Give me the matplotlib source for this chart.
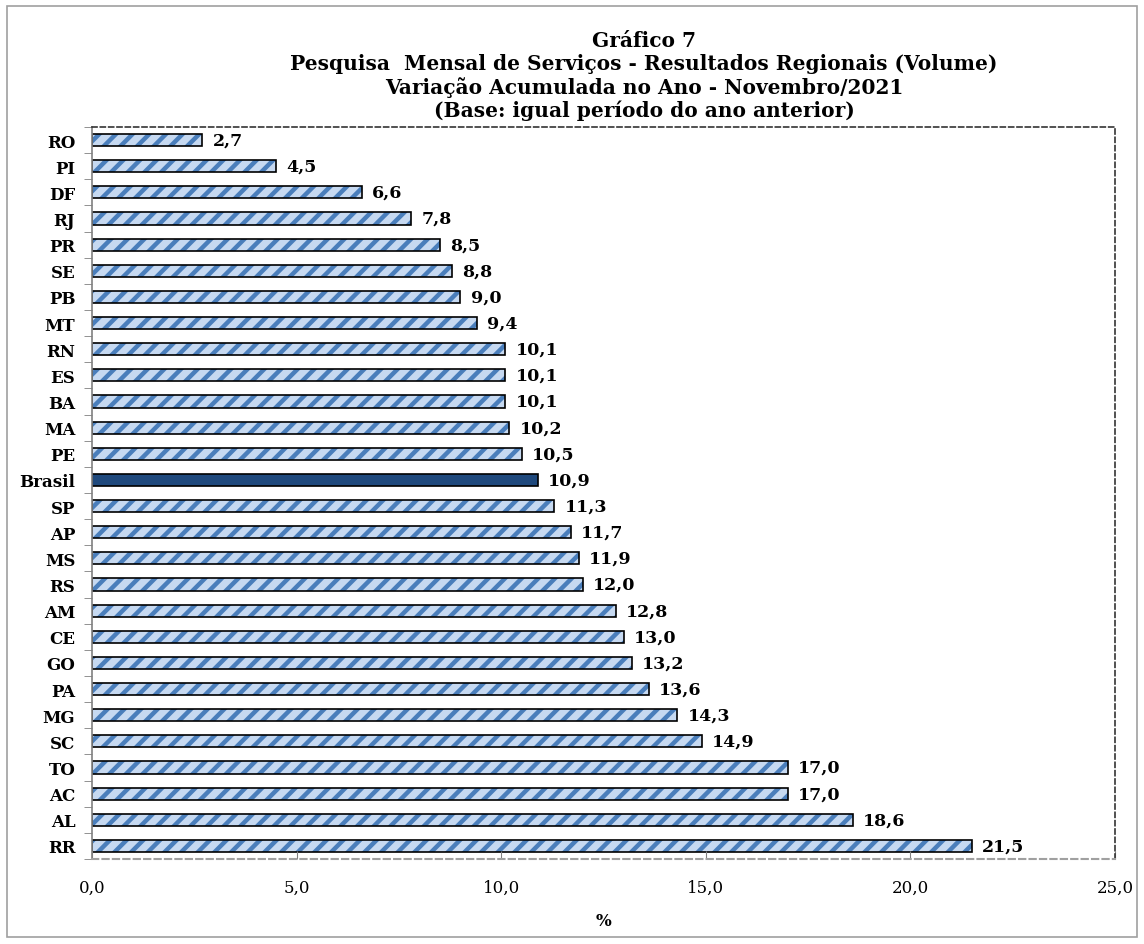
import matplotlib.pyplot as plt
from matplotlib.patches import Rectangle
import numpy as np

estados = ['RO', 'PI', 'DF', 'RJ', 'PR', 'SE', 'PB', 'MT', 'RN', 'ES', 'BA', 'MA', 'PE',
           'Brasil', 'SP', 'AP', 'MS', 'RS', 'AM', 'CE', 'GO', 'PA', 'MG', 'SC', 'TO',
           'AC', 'AL', 'RR']
valores = [2.7, 4.5, 6.6, 7.8, 8.5, 8.8, 9.0, 9.4, 10.1, 10.1, 10.1, 10.2, 10.5,
           10.9, 11.3, 11.7, 11.9, 12.0, 12.8, 13.0, 13.2, 13.6, 14.3, 14.9, 17.0,
           17.0, 18.6, 21.5]
xticks = [0, 5, 10, 15, 20, 25]

titulo = ('Gráfico 7\n'
          'Pesquisa  Mensal de Serviços - Resultados Regionais (Volume)\n'
          'Variação Acumulada no Ano - Novembro/2021\n'
          '(Base: igual período do ano anterior)')

plt.rcParams['font.family'] = ['DejaVu Serif']
plt.rcParams['hatch.linewidth'] = 3.2

fig = plt.figure(figsize=(11.44, 9.45), dpi=100)
fig.patches.append(Rectangle((7/1144, 7/945), 1130/1144, 931/945, transform=fig.transFigure,
                             fill=False, edgecolor='#a0a0a0', linewidth=1.2))
ax = fig.add_axes([92/1144, 85/945, 1023/1144, 732/945])

y = np.arange(len(estados))
cores = ['#1f497d' if e == 'Brasil' else '#c6d9f1' for e in estados]
hatches = ['' if e == 'Brasil' else '//' for e in estados]

# preenchimento com listras
for yi, v, c, h in zip(y, valores, cores, hatches):
    ax.barh(yi, v, height=0.46, color=c, hatch=h, edgecolor='#4a7ebb', linewidth=0)
# contorno preto
ax.barh(y, valores, height=0.46, fill=False, edgecolor='black', linewidth=1.2)

for yi, v in zip(y, valores):
    ax.text(v + 0.25, yi, f'{v:.1f}'.replace('.', ','), va='center', ha='left',
            fontsize=12.5, fontweight='bold')

ax.set_xlim(0, 25)
ax.set_ylim(len(estados) - 0.54, -0.46)
ax.set_xticks(xticks)
ax.set_xticklabels([f'{t:.1f}'.replace('.', ',') for t in xticks], fontsize=12)
ax.tick_params(axis='x', direction='in', length=6, color='#808080', pad=14)

ax.set_yticks(y)
ax.set_yticklabels(estados, fontsize=12, fontweight='bold')
ax.set_yticks(np.arange(len(estados) + 1) - 0.5, minor=True)
ax.tick_params(axis='y', which='major', length=0, pad=12)
ax.tick_params(axis='y', which='minor', length=6, color='#808080', direction='out')

ax.spines['left'].set_color('#808080')
ax.spines['left'].set_linewidth(1.2)
ax.spines['bottom'].set_color('#a0a0a0')
ax.spines['bottom'].set_linestyle((0, (3, 2)))
ax.spines['bottom'].set_linewidth(1.5)
for s in ['top', 'right']:
    ax.spines[s].set_linestyle((0, (3, 2)))
    ax.spines[s].set_color('#333333')
    ax.spines[s].set_linewidth(1.2)

ax.set_xlabel('%', fontsize=12, fontweight='bold', labelpad=12)
fig.text(0.563, 1 - 31/945, titulo, ha='center', va='top', fontsize=14.5,
         fontweight='bold', linespacing=1.18)

fig.savefig('out.png', dpi=100)
